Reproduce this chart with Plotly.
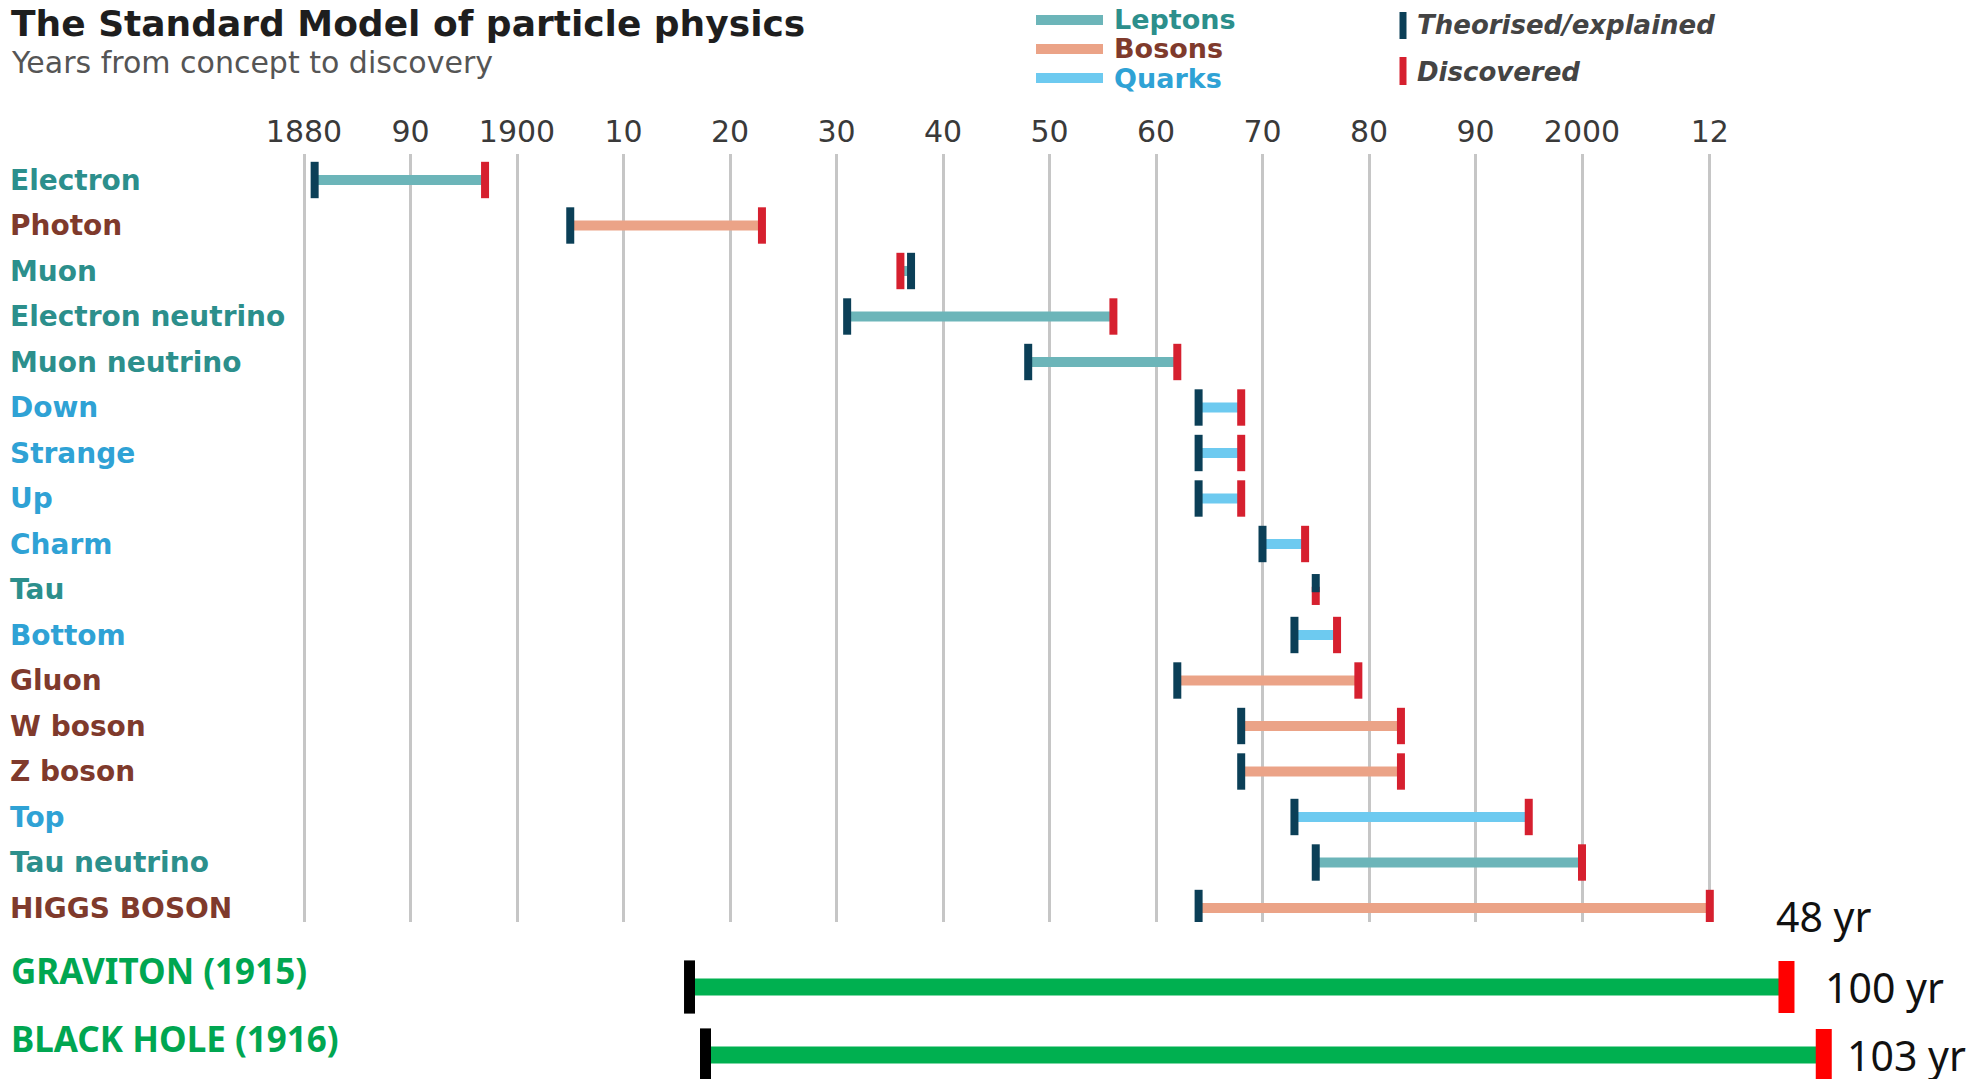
import plotly.graph_objects as go

# ---------------- data ----------------
particles = ["Electron", "Photon", "Muon", "Electron neutrino", "Muon neutrino",
             "Down", "Strange", "Up", "Charm", "Tau", "Bottom", "Gluon",
             "W boson", "Z boson", "Top", "Tau neutrino", "HIGGS BOSON"]
category = ["Leptons", "Bosons", "Leptons", "Leptons", "Leptons",
            "Quarks", "Quarks", "Quarks", "Quarks", "Leptons", "Quarks", "Bosons",
            "Bosons", "Bosons", "Quarks", "Leptons", "Bosons"]
theorised = [1881, 1905, 1937, 1931, 1948, 1964, 1964, 1964, 1970, 1975, 1973, 1962,
             1968, 1968, 1973, 1975, 1964]
discovered = [1897, 1923, 1936, 1956, 1962, 1968, 1968, 1968, 1974, 1975, 1977, 1979,
              1983, 1983, 1995, 2000, 2012]
higgs_note = "48 yr"

extra_names = ["GRAVITON (1915)", "BLACK HOLE (1916)"]
extra_start = [1916.2, 1917.7]
extra_end = [2019.2, 2022.7]
extra_notes = ["100 yr", "103 yr"]

tick_vals = [1880, 1890, 1900, 1910, 1920, 1930, 1940, 1950, 1960, 1970, 1980, 1990, 2000, 2012]
tick_text = ["1880", "90", "1900", "10", "20", "30", "40", "50", "60", "70", "80", "90", "2000", "12"]

# ---------------- styles ----------------
bar_col = {"Leptons": "#6cb5b9", "Bosons": "#eba387", "Quarks": "#6dcaf0"}
lab_col = {"Leptons": "#2c8f8c", "Bosons": "#7f3a2c", "Quarks": "#2fa2d5"}
THEO = "#0b3f57"
DISC = "#d6202f"
GREEN = "#00b050"
GREEN_TXT = "#00a651"

# the page body margin is removed (post_script), so figure px == screen px
OFF = 0
W, H = 1976, 1079


def px(xs):
    return (xs - OFF) / W


def py(ys):
    return 1 - (ys - OFF) / H


fig = go.Figure()
rows = list(range(len(particles)))

# range bars
for i, (c, t, d) in enumerate(zip(category, theorised, discovered)):
    fig.add_trace(go.Scatter(x=[t, d], y=[i, i], mode="lines",
                             line=dict(color=bar_col[c], width=10),
                             showlegend=False, hoverinfo="skip", xaxis="x", yaxis="y"))

# end markers (coincident years: split marker, dark on top half, red on bottom half)
theo_y, theo_s, disc_y, disc_s = [], [], [], []
for i, (t, d) in enumerate(zip(theorised, discovered)):
    if t == d:
        theo_y.append(i - 0.14); theo_s.append(13)
        disc_y.append(i + 0.14); disc_s.append(13)
    else:
        theo_y.append(i); theo_s.append(26)
        disc_y.append(i); disc_s.append(26)

fig.add_trace(go.Scatter(x=discovered, y=disc_y, mode="markers", opacity=1,
                         marker=dict(symbol="line-ns", size=disc_s, opacity=1,
                                     color=DISC, line=dict(width=8, color=DISC)),
                         showlegend=False, xaxis="x", yaxis="y"))
fig.add_trace(go.Scatter(x=theorised, y=theo_y, mode="markers", opacity=1,
                         marker=dict(symbol="line-ns", size=theo_s, opacity=1,
                                     color=THEO, line=dict(width=8, color=THEO)),
                         showlegend=False, xaxis="x", yaxis="y"))

# graviton / black hole rows
erows = list(range(len(extra_names)))
for j in erows:
    fig.add_trace(go.Scatter(x=[extra_start[j], extra_end[j]], y=[j, j], mode="lines",
                             line=dict(color=GREEN, width=17),
                             showlegend=False, hoverinfo="skip", xaxis="x2", yaxis="y2"))
fig.add_trace(go.Scatter(x=extra_start, y=erows, mode="markers", opacity=1,
                         marker=dict(symbol="line-ns", size=38, opacity=1, color="#000000",
                                     line=dict(width=11, color="#000000")),
                         showlegend=False, xaxis="x2", yaxis="y2"))
fig.add_trace(go.Scatter(x=extra_end, y=erows, mode="markers", opacity=1,
                         marker=dict(symbol="line-ns", size=37, opacity=1, color="#ff0000",
                                     line=dict(width=16, color="#ff0000")),
                         showlegend=False, xaxis="x2", yaxis="y2"))

# ---------------- axes geometry (screen px) ----------------
x1880, pxyr = 304.0, 10.65
xr = [1880 - (x1880 - OFF) / pxyr, 1880 + (W - (x1880 - OFF)) / pxyr]

top_px, bot_px = 154.0, 922.0
row0, rstep = 180.0, 45.5
y_range = [(bot_px - row0) / rstep, (top_px - row0) / rstep]

g0, gstep = 987.0, 68.0
y2_range = [(1079 - g0) / gstep, (bot_px - g0) / gstep]

ann = []
for i, (p, c) in enumerate(zip(particles, category)):
    ann.append(dict(text=p, x=px(8), xref="paper", xanchor="left", y=i, yref="y",
                    yanchor="middle", showarrow=False,
                    font=dict(family="DejaVu Sans", size=28, color=lab_col[c], weight="bold")))
ann.append(dict(text=higgs_note, x=discovered[-1], xref="x", y=len(particles) - 1, yref="y",
                xanchor="left", yanchor="middle", xshift=64, yshift=-8, showarrow=False,
                font=dict(family="Noto Sans", size=41, color="#111111")))
for j, (n, e, note) in enumerate(zip(extra_names, extra_end, extra_notes)):
    ann.append(dict(text=n, x=px(9), xref="paper", xanchor="left", y=j, yref="y2",
                    yanchor="middle", yshift=17, showarrow=False,
                    font=dict(family="Noto Sans", size=35, color=GREEN_TXT, weight="bold")))
    ann.append(dict(text=note, x=e, xref="x2", y=j, yref="y2", xanchor="left",
                    yanchor="middle", xshift=[37, 21][j], showarrow=False,
                    font=dict(family="Noto Sans", size=41, color="#111111")))

# title / subtitle
ann.append(dict(text="The Standard Model of particle physics", x=px(9), xref="paper",
                y=py(24), yref="paper", xanchor="left", yanchor="middle", showarrow=False,
                font=dict(family="DejaVu Sans", size=36, color="#1e1e1e", weight="bold")))
ann.append(dict(text="Years from concept to discovery", x=px(9), xref="paper",
                y=py(62), yref="paper", xanchor="left", yanchor="middle", showarrow=False,
                font=dict(family="DejaVu Sans", size=30, color="#555555")))

# legend (drawn)
shapes = []
leg_items = [("Leptons", 20), ("Bosons", 49), ("Quarks", 78)]
for name, yy in leg_items:
    shapes.append(dict(type="line", xref="paper", yref="paper",
                       x0=px(1036), x1=px(1103), y0=py(yy), y1=py(yy),
                       line=dict(color=bar_col[name], width=10)))
    ann.append(dict(text=name, x=px(1112), xref="paper", y=py(yy), yref="paper",
                    xanchor="left", yanchor="middle", showarrow=False,
                    font=dict(family="DejaVu Sans", size=27, color=lab_col[name], weight="bold")))
for name, col, y0, y1, yc in [("Theorised/explained", THEO, 12, 39, 25),
                              ("Discovered", DISC, 57, 85, 72)]:
    shapes.append(dict(type="line", xref="paper", yref="paper",
                       x0=px(1403), x1=px(1403), y0=py(y0), y1=py(y1),
                       line=dict(color=col, width=7)))
    ann.append(dict(text="<i>" + name + "</i>", x=px(1415), xref="paper", y=py(yc),
                    yref="paper", xanchor="left", yanchor="middle", showarrow=False,
                    font=dict(family="DejaVu Sans", size=26, color="#444444", weight="bold")))

fig.update_layout(
    width=W, height=H,
    margin=dict(l=0, r=0, t=0, b=0, autoexpand=False),
    paper_bgcolor="white", plot_bgcolor="white",
    showlegend=False,
    hovermode=False,
    xaxis=dict(domain=[0, 1], range=xr, side="top", anchor="y",
               tickvals=tick_vals, ticktext=tick_text, ticks="",
               tickfont=dict(family="DejaVu Sans", size=30, color="#3a3a3a"),
               showgrid=True, gridcolor="#c6c6c6", gridwidth=2.5, zeroline=False,
               showline=False, ticklabelstandoff=5, automargin=False),
    yaxis=dict(domain=[py(bot_px), py(top_px)], range=y_range,
               showticklabels=False, showgrid=False, zeroline=False, automargin=False),
    xaxis2=dict(domain=[0, 1], range=xr, anchor="y2", matches="x", visible=False,
                showgrid=False),
    yaxis2=dict(domain=[0, py(bot_px)], range=y2_range, visible=False,
                showgrid=False, zeroline=False),
    annotations=ann,
    shapes=shapes,
)

fig.write_html("out.html",
               config={"displayModeBar": False},
               post_script="document.body.style.margin='0';document.body.style.overflow='hidden';")
